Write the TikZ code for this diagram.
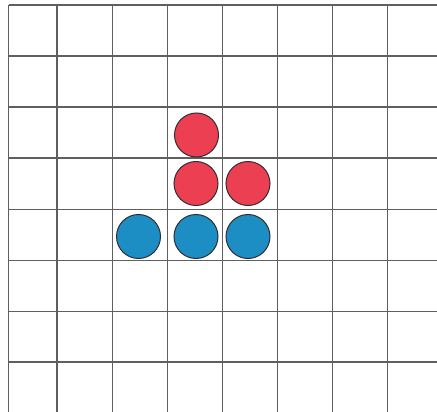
\documentclass[tikz,border=0pt]{standalone}
\definecolor{gridc}{RGB}{95,95,95}
\definecolor{redfill}{RGB}{236,64,82}
\definecolor{bluefill}{RGB}{28,142,196}
\definecolor{edgec}{RGB}{50,45,50}
\begin{document}
\begin{tikzpicture}[x=1pt,y=-1pt,
  gridline/.style={draw=gridc,line width=1.3pt},
  redc/.style={circle,draw=edgec,line width=1pt,fill=redfill,minimum size=44pt,inner sep=0pt},
  bluec/.style={circle,draw=edgec,line width=1pt,fill=bluefill,minimum size=44pt,inner sep=0pt}]
\useasboundingbox (0,0) rectangle (437,412);
\fill[white] (0,0) rectangle (437,412);
\foreach \x in {8.5,57,112.5,167.5,222.5,277.5,332.5,387.5}
  \draw[gridline] (\x,5) -- (\x,412);
\foreach \y in {5,56,107,158,209.5,260.5,311.5,362}
  \draw[gridline] (8.5,\y) -- (437,\y);
\node[redc] (r1) at (196.5,135) {};
\node[redc] (r2) at (196,183.5) {};
\node[redc] (r3) at (248,183.5) {};
\node[bluec] (b1) at (138.5,236.5) {};
\node[bluec] (b2) at (196,236.5) {};
\node[bluec] (b3) at (248,236.5) {};
\end{tikzpicture}
\end{document}
